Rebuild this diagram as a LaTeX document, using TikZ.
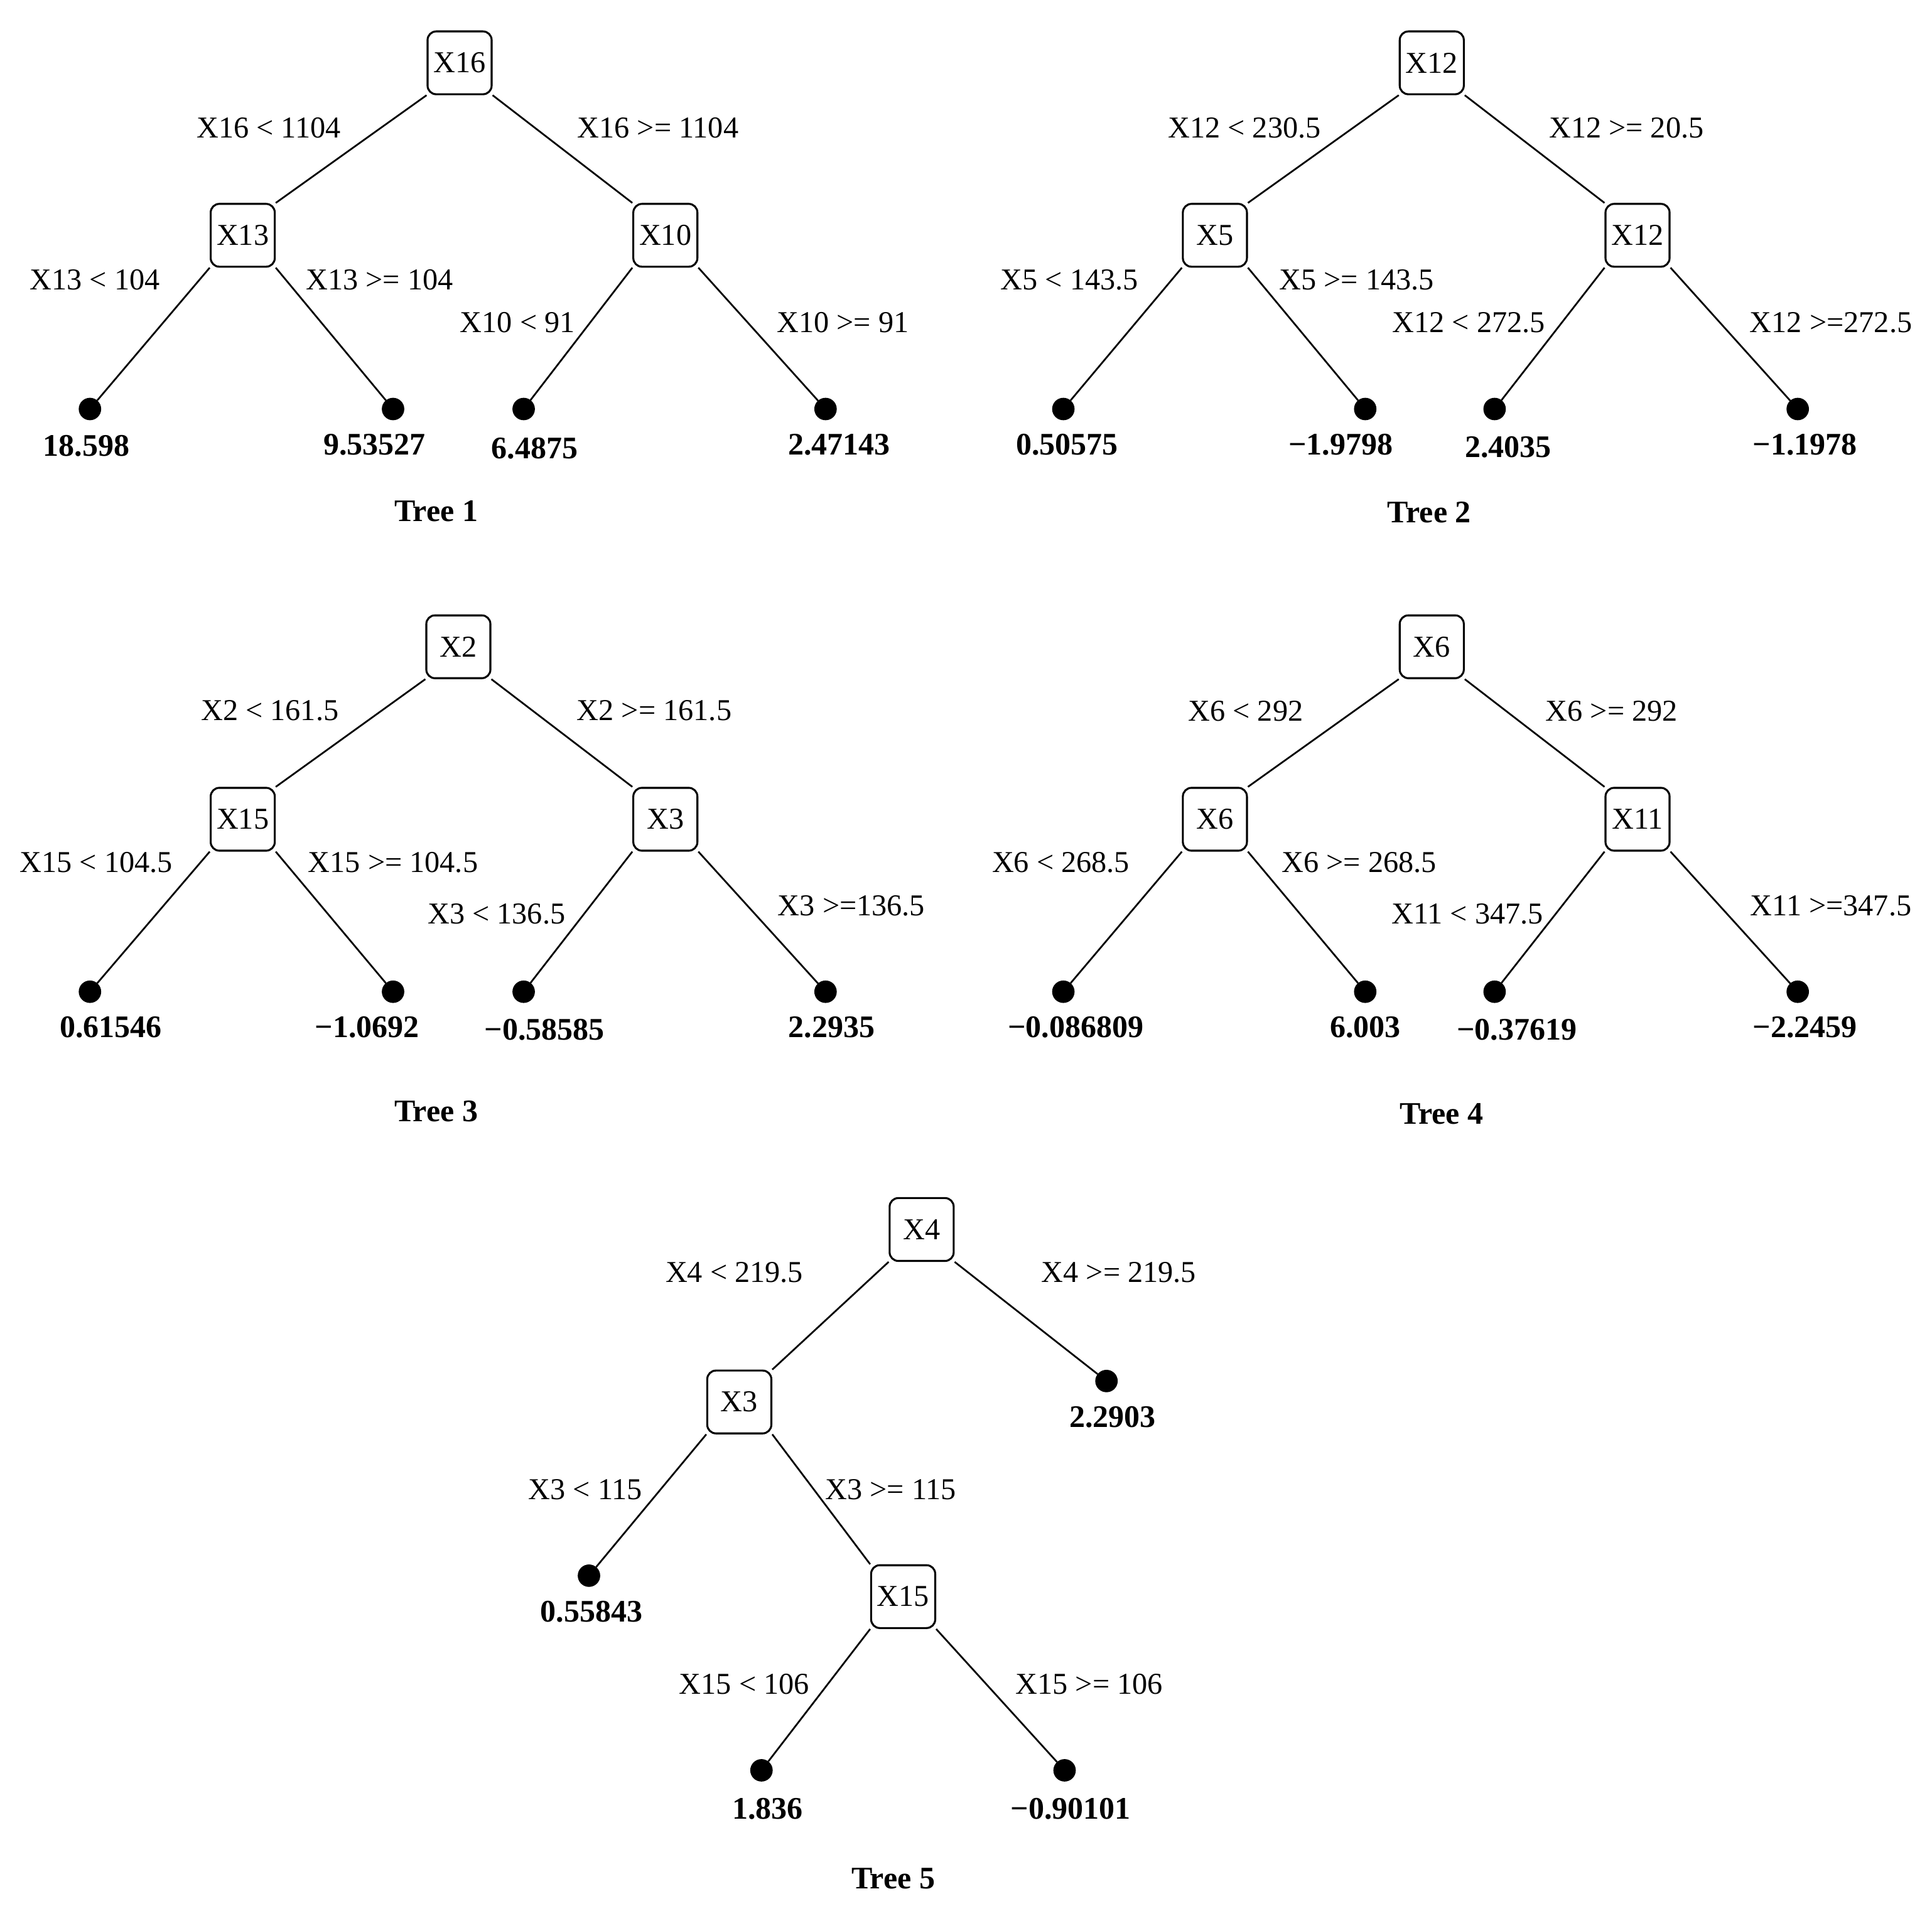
\documentclass[tikz,border=0pt]{standalone}
\usepackage{fontspec}
\setmainfont{Liberation Serif}
\begin{document}
\begin{tikzpicture}[x=0.2mm,y=-0.2mm,
  splitbox/.style={draw,line width=0.9pt,rounded corners=1.4mm,minimum width=10.4mm,minimum height=10.2mm,inner sep=0pt,font=\fontsize{14}{16}\selectfont},
  leafdot/.style={circle,fill=black,draw=black,minimum size=3.5mm,inner sep=0pt},
  lab/.style={inner sep=0pt,font=\fontsize{14}{16}\selectfont},
  val/.style={inner sep=0pt,font=\fontsize{14.5}{16}\selectfont\bfseries},
  ttl/.style={inner sep=0pt,font=\fontsize{14.5}{16}\selectfont\bfseries},
  edge/.style={line width=0.8pt}]
\useasboundingbox (0,0) rectangle (1568,1555);
% ---------- Tree 1 ----------
\node[splitbox] (t1r) at (373,51) {X16};
\node[splitbox] (t1a) at (197,191) {X13};
\node[splitbox] (t1b) at (540,191) {X10};
\node[leafdot] (t1d1) at (73,332) {};
\node[leafdot] (t1d2) at (319,332) {};
\node[leafdot] (t1d3) at (425,332) {};
\node[leafdot] (t1d4) at (670,332) {};
\node[val] (t1v1) at (70,362) {18.598};
\node[val] (t1v2) at (304,361) {9.53527};
\node[val] (t1v3) at (434,364) {6.4875};
\node[val] (t1v4) at (681,361) {2.47143};
\node[lab] (t1l1) at (218,104) {X16 < 1104};
\node[lab] (t1l2) at (534,104) {X16 >= 1104};
\node[lab] (t1l3) at (77,227) {X13 < 104};
\node[lab] (t1l4) at (308,227) {X13 >= 104};
\node[lab] (t1l5) at (420,262) {X10 < 91};
\node[lab] (t1l6) at (684,262) {X10 >= 91};
\node[ttl] (t1t) at (354,415) {Tree 1};
\draw[edge] (t1r.south west) -- (t1a.north east);
\draw[edge] (t1r.south east) -- (t1b.north west);
\draw[edge] (t1a.south west) -- (t1d1);
\draw[edge] (t1a.south east) -- (t1d2);
\draw[edge] (t1b.south west) -- (t1d3);
\draw[edge] (t1b.south east) -- (t1d4);
% ---------- Tree 2 ----------
\node[splitbox] (t2r) at (1162,51) {X12};
\node[splitbox] (t2a) at (986,191) {X5};
\node[splitbox] (t2b) at (1329,191) {X12};
\node[leafdot] (t2d1) at (863,332) {};
\node[leafdot] (t2d2) at (1108,332) {};
\node[leafdot] (t2d3) at (1213,332) {};
\node[leafdot] (t2d4) at (1459,332) {};
\node[val] (t2v1) at (866,361) {0.50575};
\node[val] (t2v2) at (1088,361) {−1.9798};
\node[val] (t2v3) at (1224,363) {2.4035};
\node[val] (t2v4) at (1465,361) {−1.1978};
\node[lab] (t2l1) at (1010,104) {X12 < 230.5};
\node[lab] (t2l2) at (1320,104) {X12 >= 20.5};
\node[lab] (t2l3) at (868,227) {X5 < 143.5};
\node[lab] (t2l4) at (1101,227) {X5 >= 143.5};
\node[lab] (t2l5) at (1192,262) {X12 < 272.5};
\node[lab] (t2l6) at (1486,262) {X12 >=272.5};
\node[ttl] (t2t) at (1160,416) {Tree 2};
\draw[edge] (t2r.south west) -- (t2a.north east);
\draw[edge] (t2r.south east) -- (t2b.north west);
\draw[edge] (t2a.south west) -- (t2d1);
\draw[edge] (t2a.south east) -- (t2d2);
\draw[edge] (t2b.south west) -- (t2d3);
\draw[edge] (t2b.south east) -- (t2d4);
% ---------- Tree 3 ----------
\node[splitbox] (t3r) at (372,525) {X2};
\node[splitbox] (t3a) at (197,665) {X15};
\node[splitbox] (t3b) at (540,665) {X3};
\node[leafdot] (t3d1) at (73,805) {};
\node[leafdot] (t3d2) at (319,805) {};
\node[leafdot] (t3d3) at (425,805) {};
\node[leafdot] (t3d4) at (670,805) {};
\node[val] (t3v1) at (90,834) {0.61546};
\node[val] (t3v2) at (298,834) {−1.0692};
\node[val] (t3v3) at (442,836) {−0.58585};
\node[val] (t3v4) at (675,834) {2.2935};
\node[lab] (t3l1) at (219,577) {X2 < 161.5};
\node[lab] (t3l2) at (531,577) {X2 >= 161.5};
\node[lab] (t3l3) at (78,700) {X15 < 104.5};
\node[lab] (t3l4) at (319,700) {X15 >= 104.5};
\node[lab] (t3l5) at (403,742) {X3 < 136.5};
\node[lab] (t3l6) at (691,735) {X3 >=136.5};
\node[ttl] (t3t) at (354,902) {Tree 3};
\draw[edge] (t3r.south west) -- (t3a.north east);
\draw[edge] (t3r.south east) -- (t3b.north west);
\draw[edge] (t3a.south west) -- (t3d1);
\draw[edge] (t3a.south east) -- (t3d2);
\draw[edge] (t3b.south west) -- (t3d3);
\draw[edge] (t3b.south east) -- (t3d4);
% ---------- Tree 4 ----------
\node[splitbox] (t4r) at (1162,525) {X6};
\node[splitbox] (t4a) at (986,665) {X6};
\node[splitbox] (t4b) at (1329,665) {X11};
\node[leafdot] (t4d1) at (863,805) {};
\node[leafdot] (t4d2) at (1108,805) {};
\node[leafdot] (t4d3) at (1213,805) {};
\node[leafdot] (t4d4) at (1459,805) {};
\node[val] (t4v1) at (873,834) {−0.086809};
\node[val] (t4v2) at (1108,834) {6.003};
\node[val] (t4v3) at (1231,836) {−0.37619};
\node[val] (t4v4) at (1465,834) {−2.2459};
\node[lab] (t4l1) at (1011,577) {X6 < 292};
\node[lab] (t4l2) at (1308,577) {X6 >= 292};
\node[lab] (t4l3) at (861,700) {X6 < 268.5};
\node[lab] (t4l4) at (1103,700) {X6 >= 268.5};
\node[lab] (t4l5) at (1191,742) {X11 < 347.5};
\node[lab] (t4l6) at (1486,735) {X11 >=347.5};
\node[ttl] (t4t) at (1170,904) {Tree 4};
\draw[edge] (t4r.south west) -- (t4a.north east);
\draw[edge] (t4r.south east) -- (t4b.north west);
\draw[edge] (t4a.south west) -- (t4d1);
\draw[edge] (t4a.south east) -- (t4d2);
\draw[edge] (t4b.south west) -- (t4d3);
\draw[edge] (t4b.south east) -- (t4d4);
% ---------- Tree 5 ----------
\node[splitbox] (t5r) at (748,998) {X4};
\node[splitbox] (t5a) at (600,1138) {X3};
\node[splitbox] (t5b) at (733,1296) {X15};
\node[leafdot] (t5d0) at (898,1121) {};
\node[leafdot] (t5d1) at (478,1279) {};
\node[leafdot] (t5d2) at (618,1437) {};
\node[leafdot] (t5d3) at (864,1437) {};
\node[val] (t5v0) at (903,1150) {2.2903};
\node[val] (t5v1) at (480,1308) {0.55843};
\node[val] (t5v2) at (623,1468) {1.836};
\node[val] (t5v3) at (869,1468) {−0.90101};
\node[lab] (t5l1) at (596,1033) {X4 < 219.5};
\node[lab] (t5l2) at (908,1033) {X4 >= 219.5};
\node[lab] (t5l3) at (475,1209) {X3 < 115};
\node[lab] (t5l4) at (723,1209) {X3 >= 115};
\node[lab] (t5l5) at (604,1367) {X15 < 106};
\node[lab] (t5l6) at (884,1367) {X15 >= 106};
\node[ttl] (t5t) at (725,1525) {Tree 5};
\draw[edge] (t5r.south west) -- (t5a.north east);
\draw[edge] (t5r.south east) -- (t5d0);
\draw[edge] (t5a.south west) -- (t5d1);
\draw[edge] (t5a.south east) -- (t5b.north west);
\draw[edge] (t5b.south west) -- (t5d2);
\draw[edge] (t5b.south east) -- (t5d3);
\end{tikzpicture}
\end{document}
